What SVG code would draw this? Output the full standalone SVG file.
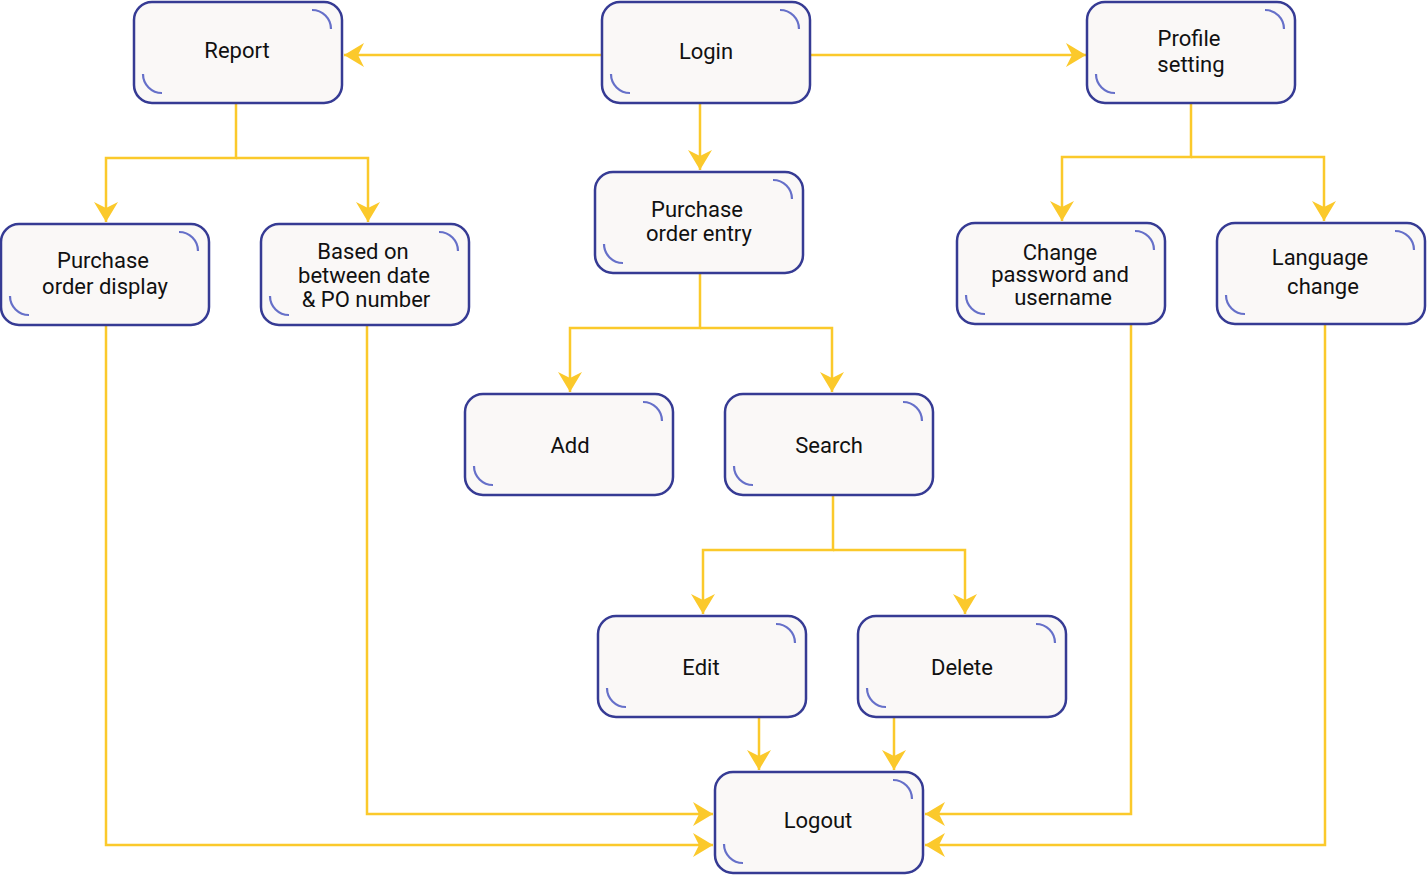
<svg xmlns="http://www.w3.org/2000/svg" width="1427" height="875" viewBox="0 0 1427 875">
<style>
.box{fill:#faf8f7;stroke:#363b94;stroke-width:2.5}
.arc{fill:none;stroke:#6670c9;stroke-width:2.2}
.t{font-family:Roboto,"Liberation Sans",sans-serif;font-size:22px;fill:#111;text-anchor:middle}
.c{fill:none;stroke:#fbc92b;stroke-width:2.5}
</style>
<defs>
<marker id="ah" markerUnits="userSpaceOnUse" viewBox="0 0 20 24" markerWidth="20" markerHeight="24" refX="20" refY="12" orient="auto">
<path d="M0,0 L20,12 L0,24 L6,12 Z" fill="#fbc92b"/>
</marker>
</defs>
<rect width="1427" height="875" fill="#ffffff"/>
<g id="connectors" class="c" marker-end="url(#ah)">
<path d="M602,55 H344"/>
<path d="M810,55 H1086"/>
<path d="M700,103 V170"/>
<path d="M236,103 V158 H106 V222"/>
<path d="M236,158 H368 V222"/>
<path d="M700,273 V328 H570 V392"/>
<path d="M700,328 H832 V392"/>
<path d="M1191,103 V157 H1062 V221"/>
<path d="M1191,157 H1324 V221"/>
<path d="M833,495 V550 H703 V614"/>
<path d="M833,550 H965 V614"/>
<path d="M759,717 V770"/>
<path d="M894,717 V770"/>
<path d="M106,325 V845 H713"/>
<path d="M367,325 V814 H713"/>
<path d="M1131,324 V814 H925"/>
<path d="M1325,324 V845 H925"/>
</g>
<g id="login"><rect class="box" x="602" y="2" width="208" height="101" rx="18"/><path class="arc" d="M780,10 a19,19 0 0 1 19,19 M611,74 a19,19 0 0 0 19,19"/><text class="t" x="706" y="59">Login</text></g>
<g id="report"><rect class="box" x="134" y="2" width="208" height="101" rx="18"/><path class="arc" d="M312,10 a19,19 0 0 1 19,19 M143,74 a19,19 0 0 0 19,19"/><text class="t" x="237" y="58">Report</text></g>
<g id="profile"><rect class="box" x="1087" y="2" width="208" height="101" rx="18"/><path class="arc" d="M1265,10 a19,19 0 0 1 19,19 M1096,74 a19,19 0 0 0 19,19"/><text class="t" x="1189" y="46">Profile</text><text class="t" x="1191" y="72">setting</text></g>
<g id="poentry"><rect class="box" x="595" y="172" width="208" height="101" rx="18"/><path class="arc" d="M773,180 a19,19 0 0 1 19,19 M604,244 a19,19 0 0 0 19,19"/><text class="t" x="697" y="217">Purchase</text><text class="t" x="699" y="241">order entry</text></g>
<g id="podisplay"><rect class="box" x="1" y="224" width="208" height="101" rx="18"/><path class="arc" d="M179,232 a19,19 0 0 1 19,19 M10,296 a19,19 0 0 0 19,19"/><text class="t" x="103" y="268">Purchase</text><text class="t" x="105" y="294">order display</text></g>
<g id="basedon"><rect class="box" x="261" y="224" width="208" height="101" rx="18"/><path class="arc" d="M439,232 a19,19 0 0 1 19,19 M270,296 a19,19 0 0 0 19,19"/><text class="t" x="363" y="259">Based on</text><text class="t" x="364" y="283">between date</text><text class="t" x="366" y="307">&amp; PO number</text></g>
<g id="changepw"><rect class="box" x="957" y="223" width="208" height="101" rx="18"/><path class="arc" d="M1135,231 a19,19 0 0 1 19,19 M966,295 a19,19 0 0 0 19,19"/><text class="t" x="1060" y="260">Change</text><text class="t" x="1060" y="282">password and</text><text class="t" x="1063" y="305">username</text></g>
<g id="language"><rect class="box" x="1217" y="223" width="208" height="101" rx="18"/><path class="arc" d="M1395,231 a19,19 0 0 1 19,19 M1226,295 a19,19 0 0 0 19,19"/><text class="t" x="1320" y="265">Language</text><text class="t" x="1323" y="294">change</text></g>
<g id="add"><rect class="box" x="465" y="394" width="208" height="101" rx="18"/><path class="arc" d="M643,402 a19,19 0 0 1 19,19 M474,466 a19,19 0 0 0 19,19"/><text class="t" x="570" y="453">Add</text></g>
<g id="search"><rect class="box" x="725" y="394" width="208" height="101" rx="18"/><path class="arc" d="M903,402 a19,19 0 0 1 19,19 M734,466 a19,19 0 0 0 19,19"/><text class="t" x="829" y="453">Search</text></g>
<g id="edit"><rect class="box" x="598" y="616" width="208" height="101" rx="18"/><path class="arc" d="M776,624 a19,19 0 0 1 19,19 M607,688 a19,19 0 0 0 19,19"/><text class="t" x="701" y="675">Edit</text></g>
<g id="delete"><rect class="box" x="858" y="616" width="208" height="101" rx="18"/><path class="arc" d="M1036,624 a19,19 0 0 1 19,19 M867,688 a19,19 0 0 0 19,19"/><text class="t" x="962" y="675">Delete</text></g>
<g id="logout"><rect class="box" x="715" y="772" width="208" height="101" rx="18"/><path class="arc" d="M893,780 a19,19 0 0 1 19,19 M724,844 a19,19 0 0 0 19,19"/><text class="t" x="818" y="828">Logout</text></g>
</svg>
